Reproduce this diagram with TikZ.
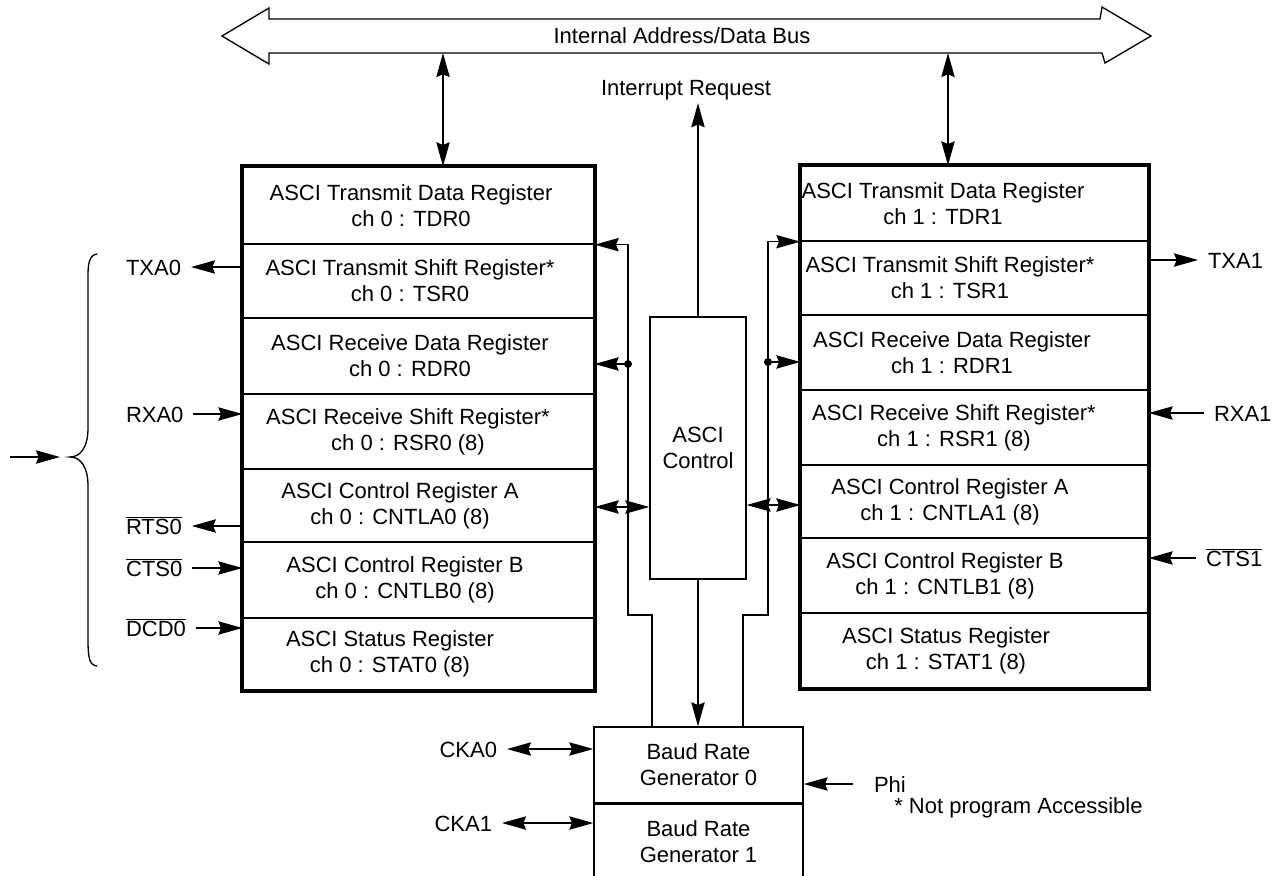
\documentclass[tikz,border=0pt]{standalone}
\usepackage{fontspec}
\setmainfont{Liberation Sans}
\usetikzlibrary{arrows.meta}

\tikzset{
  >={Stealth[length=18pt, width=10pt, inset=2pt]},
  lbl/.style={font=\fontsize{16.5}{19.5}\selectfont, align=center, inner sep=2pt},
  sig/.style={lbl, inner xsep=7pt, text height=12pt, text depth=0pt},
  regrow/.style={draw, inner sep=0pt},
  outline/.style={line width=3pt},
}

\begin{document}
\begin{tikzpicture}[x=0.75pt, y=-0.75pt, line width=1pt]
  \useasboundingbox (0,0) rectangle (1282,875);

  % Internal bus
  \draw (222,36) -- (269,8) -- (269,19) -- (1100,19) -- (1102,7) -- (1151,36)
    -- (1105,63) -- (1102,53) -- (269,53) -- (269,64) -- cycle;
  \node[lbl] (bus) at (682,36) {Internal Address/Data Bus};
  \coordinate (busl) at (443,53);
  \coordinate (busr) at (948,53);

  % Channel 0 registers
  \foreach \n/\ya/\yb/\tx/\ta/\tb in {
      tdr0/167/244/411/ASCI Transmit Data Register/ch 0 : TDR0,
      tsr0/244/318/410/ASCI Transmit Shift Register*/ch 0 : TSR0,
      rdr0/318/394/410/ASCI Receive Data Register/ch 0 : RDR0,
      rsr0/394/469/408/ASCI Receive Shift Register*/ch 0 : RSR0 (8),
      cnta0/469/542/400/ASCI Control Register A/ch 0 : CNTLA0 (8),
      cntb0/542/618/405/ASCI Control Register B/ch 0 : CNTLB0 (8),
      stat0/618/690/390/ASCI Status Register/ch 0 : STAT0 (8)} {
    \node[regrow, minimum width=263.25pt, minimum height={(\yb-\ya)*0.75pt}]
      (\n) at (418.5,{(\ya+\yb)/2}) {};
    \node[lbl] at (\tx,{(\ya+\yb)/2}) {\ta\\\tb};
  }
  \draw[outline] (tdr0.north west) rectangle (stat0.south east);

  % Channel 1 registers
  \foreach \n/\ya/\yb/\tx/\ta/\tb in {
      tdr1/166/241/943/ASCI Transmit Data Register/ch 1 : TDR1,
      tsr1/241/315/950/ASCI Transmit Shift Register*/ch 1 : TSR1,
      rdr1/315/390/952/ASCI Receive Data Register/ch 1 : RDR1,
      rsr1/390/465/954/ASCI Receive Shift Register*/ch 1 : RSR1 (8),
      cnta1/465/538/950/ASCI Control Register A/ch 1 : CNTLA1 (8),
      cntb1/538/613/945/ASCI Control Register B/ch 1 : CNTLB1 (8),
      stat1/613/688/946/ASCI Status Register/ch 1 : STAT1 (8)} {
    \node[regrow, minimum width=260.25pt, minimum height={(\yb-\ya)*0.75pt}]
      (\n) at (974.5,{(\ya+\yb)/2}) {};
    \node[lbl] at (\tx,{(\ya+\yb)/2}) {\ta\\\tb};
  }
  \draw[outline] (tdr1.north west) rectangle (stat1.south east);

  \draw[<->] (busl) -- (busl |- tdr0.north);
  \draw[<->] (busr) -- (busr |- tdr1.north);

  % ASCI control
  \node[draw, lbl, minimum width=72pt, minimum height=196.5pt] (ctrl) at (698,448) {ASCI\\Control};
  \node[lbl] (irq) at (686,90) {Interrupt Request};
  \draw[->] (ctrl.north) -- (ctrl.north |- irq.south);

  % Baud rate generators
  \node[draw, lbl, minimum width=156.75pt, minimum height=57pt] (brg0) at (698.5,765)
    {Baud Rate\\Generator 0};
  \node[draw, lbl, minimum width=156.75pt, minimum height=56.25pt, anchor=north] (brg1)
    at (brg0.south) {Baud Rate\\Generator 1};
  \draw[->] (ctrl.south) -- (ctrl.south |- brg0.north);

  % control wires
  \coordinate (lfoot) at (652,727);
  \coordinate (rfoot) at (743,727);
  \coordinate (lstep) at (628,615);
  \coordinate (rstep) at (768,615);
  \coordinate (ldot) at (628,364);
  \coordinate (rdot) at (768,362);
  \draw[->] (lfoot) |- (lstep) |- (tdr0.south east);
  \draw[->] (rfoot) |- (rstep) |- (tdr1.south west);
  \fill (ldot) circle (3pt);
  \fill (rdot) circle (3pt);
  \draw[->] (ldot) -- (ldot -| rdr0.east);
  \draw[->] (rdot) -- (rdot -| rdr1.west);
  \coordinate (lbi) at (650,507);
  \coordinate (rbi) at (746,505);
  \draw[<->] (lbi -| cnta0.east) -- (lbi -| ctrl.west);
  \draw[<->] (rbi -| ctrl.east) -- (rbi -| cnta1.west);

  % Channel 0 pins
  \node[sig, anchor=west] (txa0) at (116,267) {TXA0};
  \node[sig, anchor=west] (rxa0) at (116,414) {RXA0};
  \node[sig, anchor=west] (rts0) at (116,526) {$\overline{\mbox{RTS0}}$};
  \node[sig, anchor=west] (cts0) at (116,568) {$\overline{\mbox{CTS0}}$};
  \node[sig, anchor=west] (dcd0) at (116,628) {$\overline{\mbox{DCD0}}$};
  \draw[->] (txa0 -| tsr0.west) -- (txa0.east);
  \draw[->] (rxa0.east) -- (rxa0 -| rsr0.west);
  \draw[->] (rts0 -| cnta0.west) -- (rts0.east);
  \draw[->] (cts0.east) -- (cts0 -| cntb0.west);
  \draw[->] (dcd0.east) -- (dcd0 -| stat0.west);

  % brace over channel 0 pins
  \draw (97,254) .. controls (90,255) and (88,262) .. (88,275) -- (88,428)
    .. controls (88,448) and (80,457) .. (70,457)
    .. controls (80,457) and (88,466) .. (88,486) -- (88,640)
    .. controls (88,660) and (90,665) .. (97,666);
  \coordinate (brace) at (60,457);
  \coordinate (input) at (10,457);
  \draw[->] (input) -- (brace);

  % Channel 1 pins
  \node[sig, anchor=west] (txa1) at (1198,260) {TXA1};
  \node[sig, anchor=west] (rxa1) at (1204,413) {RXA1};
  \node[sig, anchor=west] (cts1) at (1196,558) {$\overline{\mbox{CTS1}}$};
  \draw[->] (txa1 -| tsr1.east) -- (txa1.west);
  \draw[->] (rxa1.west) -- (rxa1 -| rsr1.east);
  \draw[->] (cts1.west) -- (cts1 -| cntb1.east);

  % clock pins
  \node[sig, anchor=east] (cka0) at (507,749) {CKA0};
  \node[sig, anchor=east] (cka1) at (502,823) {CKA1};
  \draw[<->] (cka0.east) -- (cka0.east -| brg0.west);
  \draw[<->] (cka1.east) -- (cka1.east -| brg1.west);
  \node[sig, anchor=west] (phi) at (864,784) {Phi};
  \draw[->, shorten <=8pt] (phi.west) -- (phi.west -| brg0.east);
  \node[lbl, anchor=west] (note) at (891,808) {* Not program Accessible};
\end{tikzpicture}
\end{document}
